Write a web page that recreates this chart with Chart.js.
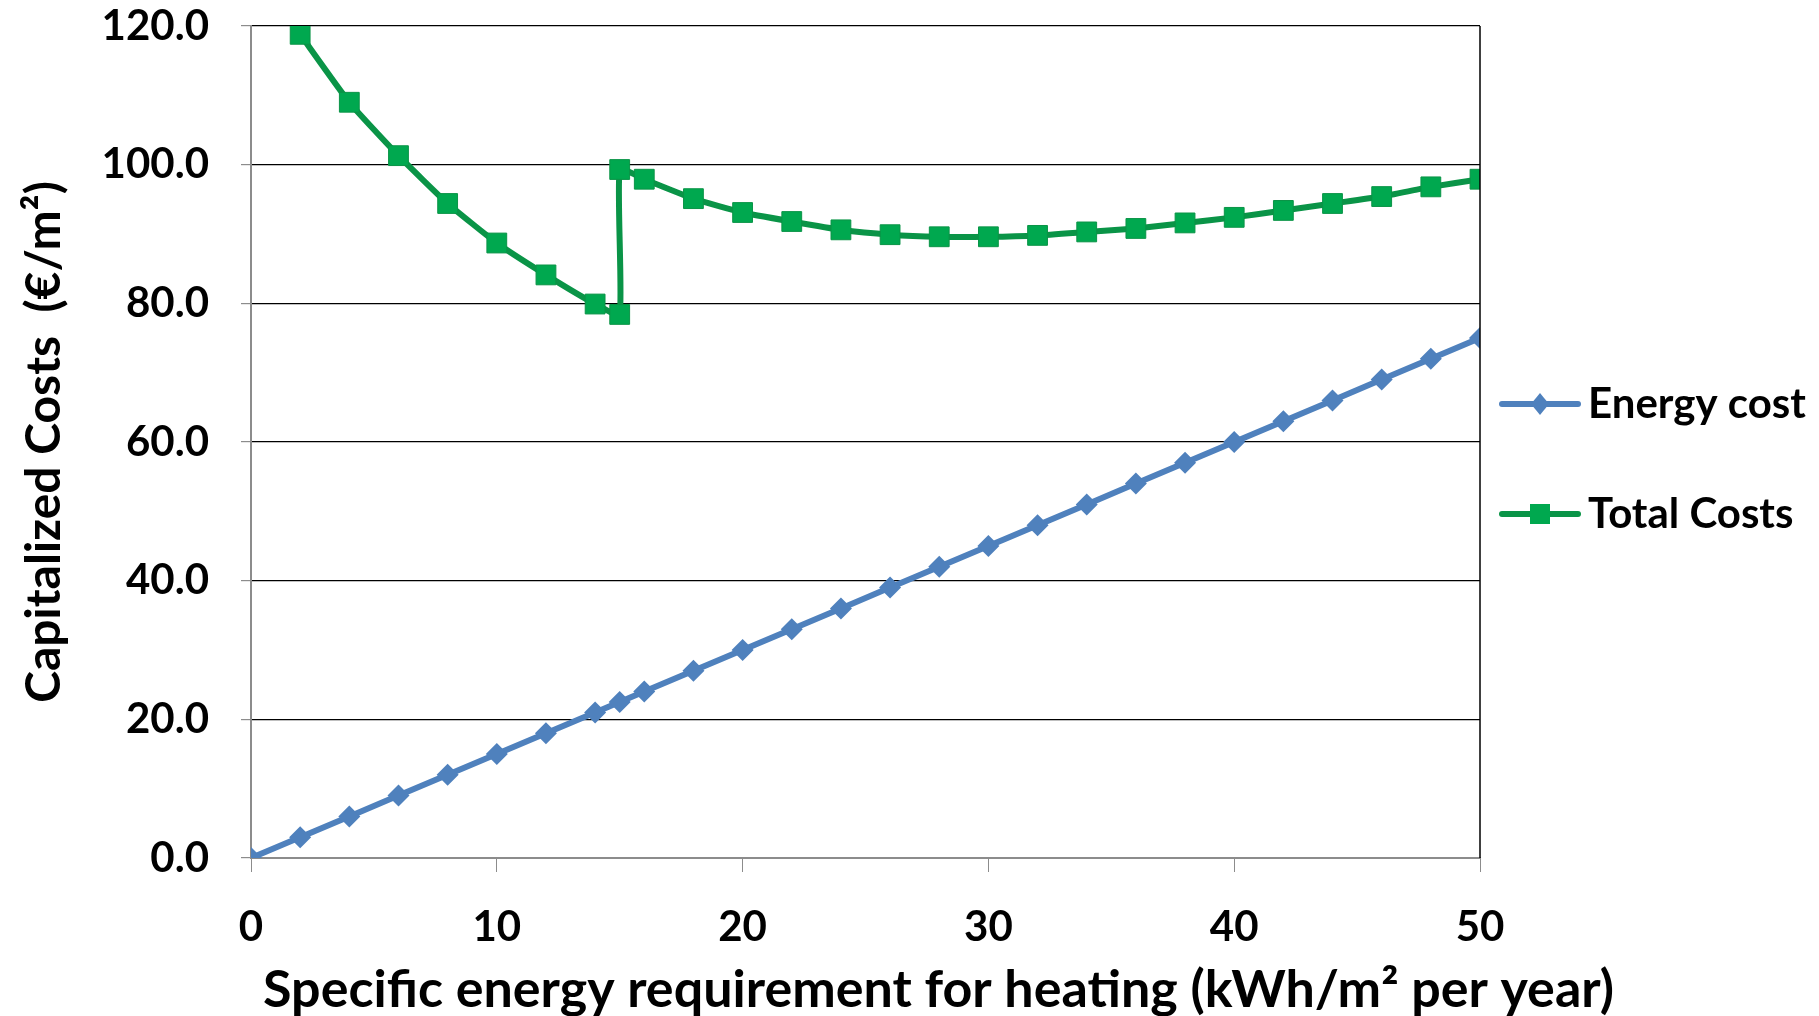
<!DOCTYPE html>
<html>
<head>
<meta charset="utf-8">
<script src="https://cdn.jsdelivr.net/npm/chart.js@4.4.1/dist/chart.umd.min.js"></script>
<style>
    html, body { margin: 0; padding: 0; background: #fff; }
    #wrap { width: 1819px; height: 1016px; }
</style>
</head>
<body>
<div id="wrap"><canvas id="costChart"></canvas></div>
<script>
// valores
const energyX = [0, 2, 4, 6, 8, 10, 12, 14, 15, 16, 18, 20, 22, 24, 26, 28, 30, 32, 34, 36, 38, 40, 42, 44, 46, 48, 50];
const energyCost = [0, 3, 6, 9, 12, 15, 18, 21, 22.5, 24, 27, 30, 33, 36, 39, 42, 45, 48, 51, 54, 57, 60, 63, 66, 69, 72, 75];

const totalX = [2, 4, 6, 8, 10, 12, 14, 15, 15, 16, 18, 20, 22, 24, 26, 28, 30, 32, 34, 36, 38, 40, 42, 44, 46, 48, 50];
const totalCosts = [118.8, 109.0, 101.3, 94.4, 88.7, 84.1, 79.9, 78.4, 99.3, 97.9, 95.1, 93.1, 91.8, 90.6, 89.9, 89.6, 89.6, 89.8, 90.3, 90.8, 91.6, 92.4, 93.4, 94.4, 95.4, 96.8, 97.9];

const seriesNames = ['Energy cost', 'Total Costs'];
const xTitle = 'Specific energy requirement for heating (kWh/m\u00B2 per year)';
const yTitle = 'Capitalized Costs  (\u20AC/m\u00B2)';

const blue = '#4F81BD';
const greenLine = '#0A9447';
const greenFill = '#00A84F';
const fontFamily = 'Lato, "Open Sans", sans-serif';

const pts = (xs, ys) => xs.map((x, i) => ({ x: x, y: ys[i] }));

// borda direita, título do eixo x e legenda desenhada à mão
const extras = {
    id: 'extras',
    afterDraw(chart) {
        const { ctx, chartArea } = chart;
        ctx.save();
        ctx.strokeStyle = '#000';
        ctx.lineWidth = 1.5;
        ctx.beginPath();
        ctx.moveTo(chartArea.right, chartArea.top);
        ctx.lineTo(chartArea.right, chartArea.bottom);
        ctx.stroke();

        // título do eixo x
        ctx.save();
        ctx.translate((chartArea.left + chartArea.right) / 2 + 73, chart.scales.x.bottom - 25);
        ctx.scale(1.02, 1);
        ctx.fillStyle = '#000';
        ctx.font = 'bold 51px ' + fontFamily;
        ctx.textAlign = 'center';
        ctx.textBaseline = 'middle';
        ctx.fillText(xTitle, 0, 0);
        ctx.restore();

        const x0 = chartArea.right + 22;
        const mid = (chartArea.top + chartArea.bottom) / 2 + 17;
        chart.data.datasets.forEach((ds, i) => {
            const y = mid + (i === 0 ? -55 : 55);
            ctx.strokeStyle = ds.borderColor;
            ctx.lineWidth = 6;
            ctx.lineCap = 'round';
            ctx.beginPath();
            ctx.moveTo(x0, y);
            ctx.lineTo(x0 + 76, y);
            ctx.stroke();
            ctx.fillStyle = ds.pointBackgroundColor;
            ctx.beginPath();
            if (ds.pointStyle === 'rectRot') {
                ctx.moveTo(x0 + 38, y - 11); ctx.lineTo(x0 + 47, y); ctx.lineTo(x0 + 38, y + 11); ctx.lineTo(x0 + 29, y);
            } else {
                ctx.rect(x0 + 28, y - 10, 20, 20);
            }
            ctx.closePath();
            ctx.fill();
            ctx.fillStyle = '#000';
            ctx.font = 'bold 42px ' + fontFamily;
            ctx.textAlign = 'left';
            ctx.textBaseline = 'middle';
            ctx.fillText(ds.label, x0 + 86, y);
        });
        ctx.restore();
    }
};

const ctx = document.getElementById('costChart').getContext('2d');
new Chart(ctx, {
    type: 'line',
    data: {
        datasets: [{
            label: seriesNames[0],
            data: pts(energyX, energyCost),
            borderColor: blue,
            backgroundColor: blue,
            borderWidth: 6,
            pointStyle: 'rectRot',
            pointRadius: 11,
            pointBorderWidth: 0,
            pointBackgroundColor: blue,
            tension: 0
        }, {
            label: seriesNames[1],
            data: pts(totalX, totalCosts),
            borderColor: greenLine,
            backgroundColor: greenFill,
            borderWidth: 6,
            pointStyle: 'rect',
            pointRadius: 14,
            pointBorderWidth: 1,
            pointBorderColor: greenLine,
            pointBackgroundColor: greenFill,
            tension: 0.15
        }]
    },
    options: {
        responsive: true,
        maintainAspectRatio: false,
        animation: false,
        layout: { padding: { top: 26, right: 339, left: 4, bottom: 0 } },
        plugins: {
            legend: { display: false },
            tooltip: { enabled: false }
        },
        scales: {
            x: {
                type: 'linear',
                min: 0,
                max: 50,
                afterFit: (scale) => { scale.height = 158; },
                ticks: { stepSize: 10, color: '#000', padding: 30, font: { family: fontFamily, size: 42, weight: 'bold' } },
                grid: { drawOnChartArea: false, drawTicks: true, tickLength: 14, color: '#8c8c8c' },
                border: { color: '#8c8c8c', width: 2 },
                title: { display: false }
            },
            y: {
                min: 0,
                max: 120,
                afterFit: (scale) => { scale.width = 247; scale.paddingTop = 0; scale.paddingBottom = 0; },
                ticks: { stepSize: 20, color: '#000', padding: 32, callback: v => v.toFixed(1), font: { family: fontFamily, size: 42, weight: 'bold' } },
                grid: { color: '#000', lineWidth: 1.2, tickLength: 10, tickColor: '#8c8c8c' },
                border: { color: '#8c8c8c', width: 2 },
                title: { display: true, text: yTitle, color: '#000', padding: { top: 12, bottom: 0 }, font: { family: fontFamily, size: 48, weight: 'bold' } }
            }
        }
    },
    plugins: [extras]
});
</script>
</body>
</html>
